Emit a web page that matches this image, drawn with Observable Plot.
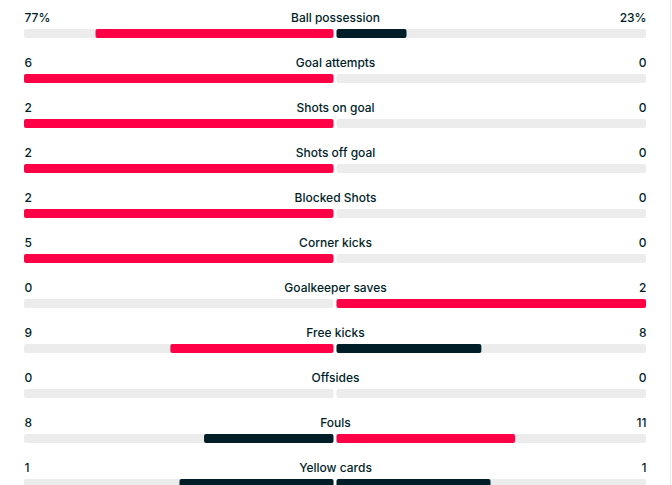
<!DOCTYPE html>
<html>
<head>
<meta charset="utf-8">
<script src="https://cdn.jsdelivr.net/npm/d3@7"></script>
<script src="https://cdn.jsdelivr.net/npm/@observablehq/plot@0.6"></script>
<style>
  html, body { margin: 0; padding: 0; background: #fff; overflow: hidden; }
  #wrap { position: relative; width: 672px; height: 485px; }
  #edge { position: absolute; left: 670px; top: 0; width: 1px; height: 485px; background: #e6e6e6; }
</style>
</head>
<body>
<div id="wrap"><div id="edge"></div></div>
<script>
const categories = ["Ball possession", "Goal attempts", "Shots on goal", "Shots off goal", "Blocked Shots", "Corner kicks", "Goalkeeper saves", "Free kicks", "Offsides", "Fouls", "Yellow cards"];
const homeValues = [77, 6, 2, 2, 2, 5, 0, 9, 0, 8, 1];
const awayValues = [23, 0, 0, 0, 0, 0, 2, 8, 0, 11, 1];
const valueSuffix = ["%", "", "", "", "", "", "", "", "", "", ""];

const RED = "#ff0046";
const DARK = "#001e28";
const TRACK = "#ececec";

const rows = categories.map((c, i) => {
  const h = homeValues[i], a = awayValues[i], t = h + a;
  return {
    cat: c,
    home: h, away: a,
    hf: t ? h / t : 0,
    af: t ? a / t : 0,
    hc: h > a ? RED : DARK,
    ac: a > h ? RED : DARK,
    hl: h + valueSuffix[i],
    al: a + valueSuffix[i]
  };
});

const font = "Inter, 'Noto Sans', sans-serif";

const chart = Plot.plot({
  width: 672,
  height: 485,
  margin: 0,
  x: {domain: [-1, 1], range: [24, 646], axis: null},
  y: {type: "band", domain: categories, range: [29, 488], paddingInner: 0.8, paddingOuter: 0, align: 0, axis: null},
  style: {fontFamily: font, background: "#fff"},
  marks: [
    // tracks
    Plot.rectX(rows, {y: "cat", x1: -1, x2: 0, insetRight: 1.5, fill: TRACK, rx: 2}),
    Plot.rectX(rows, {y: "cat", x1: 0, x2: 1, insetLeft: 1.5, fill: TRACK, rx: 2}),
    // bars
    Plot.rectX(rows.filter(d => d.hf > 0), {y: "cat", x1: d => -d.hf, x2: 0, insetRight: 1.5, fill: "hc", rx: 2}),
    Plot.rectX(rows.filter(d => d.af > 0), {y: "cat", x1: 0, x2: "af", insetLeft: 1.5, fill: "ac", rx: 2}),
    // texts
    Plot.text(rows, {y: "cat", x: 0, text: "cat", lineAnchor: "bottom", dy: -12.5, fill: DARK, fontSize: 12, fontWeight: 500}),
    Plot.text(rows, {y: "cat", x: -1, text: "hl", textAnchor: "start", lineAnchor: "bottom", dy: -12.5, fill: DARK, fontSize: 12, fontWeight: 500}),
    Plot.text(rows, {y: "cat", x: 1, text: "al", textAnchor: "end", lineAnchor: "bottom", dy: -12.5, fill: DARK, fontSize: 12, fontWeight: 500})
  ]
});
document.getElementById("wrap").prepend(chart);
</script>
</body>
</html>
